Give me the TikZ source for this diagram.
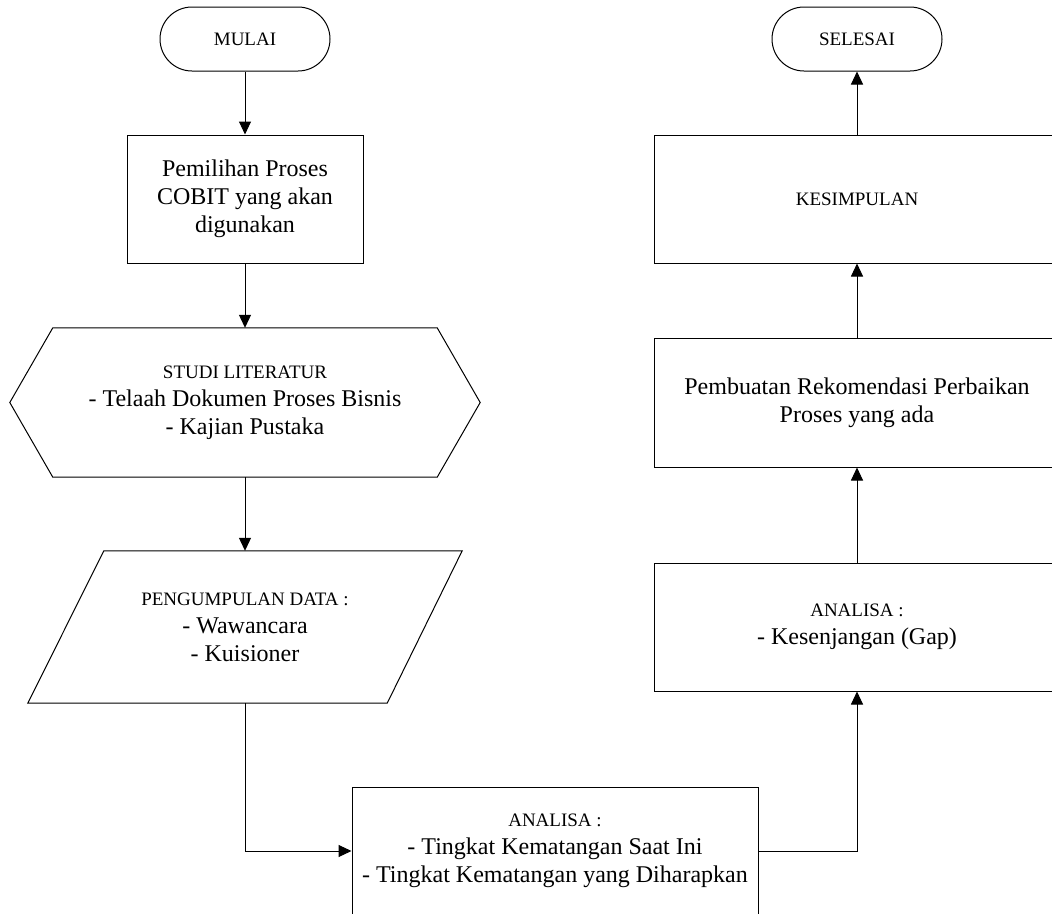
\documentclass[tikz,border=0pt]{standalone}
\usepackage{fontspec}
\setmainfont{Liberation Serif}
\usepackage{tikz}
\usetikzlibrary{calc,arrows.meta}

\newcommand{\kecil}[1]{{\fontsize{19}{22}\selectfont #1}}

\tikzset{
	box/.style={draw,line width=1pt,align=center,inner sep=0pt,
		font=\fontsize{24}{28}\selectfont},
	term/.style={box,rounded corners=32pt,minimum width=170pt,minimum height=64pt},
	wide/.style={box,minimum width=406pt,minimum height=128pt},
	bare/.style={align=center,inner sep=0pt,font=\fontsize{24}{28}\selectfont},
	flow/.style={line width=1pt,-{Triangle[length=13pt,width=12pt]}}
}

\begin{document}
\begin{tikzpicture}[x=1pt,y=-1pt]
	\useasboundingbox (0,0) rectangle (1052,913);
	\clip (0,0) rectangle (1052,913);

	%left column
	\node[term] (mulai) at (245,39) {\kecil{MULAI}};
	\node[box,minimum width=236pt,minimum height=128pt] (pilih) at (245,199)
		{Pemilihan Proses\\COBIT yang akan\\digunakan};
	\node[bare,minimum width=470pt,minimum height=149pt] (studi) at (245,402.5)
		{\kecil{STUDI LITERATUR}\\- Telaah Dokumen Proses Bisnis\\- Kajian Pustaka};
	\node[bare,minimum width=434pt,minimum height=152pt] (data) at (245,627)
		{\kecil{PENGUMPULAN DATA :}\\- Wawancara\\- Kuisioner};
		\draw[line width=1pt] (studi.west) -- ($(studi.north west)+(43,0)$)
			-- ($(studi.north east)+(-43,0)$) -- (studi.east)
			-- ($(studi.south east)+(-43,0)$) -- ($(studi.south west)+(43,0)$) -- cycle;	%hexagon
		\draw[line width=1pt] ($(data.north west)+(76,0)$) -- (data.north east)
			-- ($(data.south east)+(-75,0)$) -- (data.south west) -- cycle;	%parallelogram

	%bottom
	\node[wide] (tingkat) at (555,851)
		{\kecil{ANALISA :}\\- Tingkat Kematangan Saat Ini\\- Tingkat Kematangan yang Diharapkan};

	%right column
	\node[wide] (gap) at (857,627) {\kecil{ANALISA :}\\- Kesenjangan (Gap)};
	\node[wide,minimum height=129pt] (rekom) at (857,402.5)
		{Pembuatan Rekomendasi Perbaikan\\Proses yang ada};
	\node[wide] (simpul) at (857,199) {\kecil{KESIMPULAN}};
	\node[term] (selesai) at (857,39) {\kecil{SELESAI}};

	%arrows
	\draw[flow] (mulai) -- (pilih);
	\draw[flow] (pilih) -- (studi.north);
	\draw[flow] (studi.south) -- (data.north);
	\draw[flow] (data.south) |- (tingkat.west);
	\draw[flow] (tingkat.east) -| (gap.south);
	\draw[flow] (gap) -- (rekom);
	\draw[flow] (rekom) -- (simpul);
	\draw[flow] (simpul) -- (selesai);

	%\draw[help lines,step=50] (0,0) grid (1052,913);
\end{tikzpicture}
\end{document}
